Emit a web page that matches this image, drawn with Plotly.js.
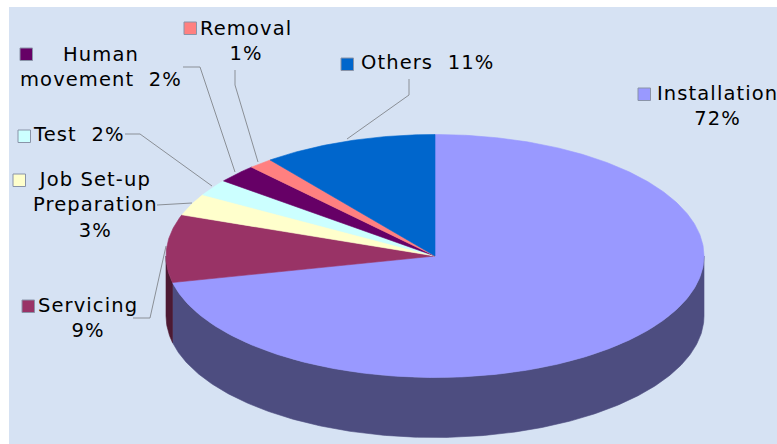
<!DOCTYPE html>
<html><head><meta charset="utf-8">
<script src="https://cdn.plot.ly/plotly-3.0.1.min.js"></script>
<style>html,body{margin:0;padding:0;background:#fff}#c{width:777px;height:444px}
.annotation-text{letter-spacing:1.1px}</style>
</head><body><div id="c"></div>
<script>
const categories = ["Installation","Servicing","Job Set-up Preparation","Test","Human movement","Removal","Others"];
const values = [71.5,9,2.9,2.2,2.45,1.45,10.5];
const topColors = ["#9999FF","#993366","#FFFFCC","#CCFFFF","#660066","#FF8080","#0066CC"];
const sideColors = ["#4D4D80","#4D1A33","#808066","#668080","#330033","#804040","#003366"];
const labelTexts = ["Installation<br>72%","Servicing<br>9%","Job Set-up<br>Preparation<br>3%","Test  2%","Human<br>movement  2%","Removal<br>1%","Others  11%"];

const W=777,H=444,ML=9,MT=7;
const CX=435,CY=256,RX=269,RY=121.5,DEPTH=60;
const depthU=DEPTH/RY;
const total=values.reduce((a,b)=>a+b,0);
const pt=t=>[Math.sin(t),Math.cos(t)];
function arc(a,b){const n=Math.max(2,Math.ceil((b-a)/0.01));const o=[];for(let i=0;i<=n;i++)o.push(pt(a+(b-a)*i/n));return o;}
const traces=[];
function poly(P,fill){traces.push({type:'scatter',mode:'lines',x:P.map(p=>p[0]),y:P.map(p=>p[1]),fill:'toself',fillcolor:fill,line:{color:fill,width:0.6},hoverinfo:'skip',showlegend:false});}
let c=0;const wedges=[];
values.forEach((v,i)=>{const a=c/total*2*Math.PI;c+=v;const b=c/total*2*Math.PI;wedges.push([a,b,i]);});
// side wall: only the front half of the rim is visible
wedges.forEach(([a,b,i])=>{const s=Math.max(a,Math.PI/2),e=Math.min(b,3*Math.PI/2);if(e>s){const top=arc(s,e);const bot=top.map(p=>[p[0],p[1]-depthU]).reverse();poly(top.concat(bot,[top[0]]),sideColors[i]);}});
wedges.forEach(([a,b,i])=>{const A=arc(a,b);poly([[0,0]].concat(A,[[0,0]]),topColors[i]);});

const pw=W-ML,ph=H-MT;
const X=px=>(px-ML)/pw,Y=py=>1-(py-MT)/ph;
const leaders=[
 [[347,139],[409,95],[409,79]],
 [[235,70],[235,85],[258,162]],
 [[183,67],[200,67],[235,172]],
 [[125,134],[140,134],[212,186]],
 [[157,205],[192,203]],
 [[133,318],[150,318],[166,246]]
];
const shapes=leaders.map(L=>({type:'path',xref:'paper',yref:'paper',layer:'below',
  path:L.map((p,i)=>(i?'L':'M')+X(p[0])+' '+Y(p[1])).join(' '),line:{color:'#8A8F96',width:1}}));
const keys=[[638,88,0],[22,300,1],[13,174,2],[18,130,3],[20,48,4],[184,22,5],[341,58,6]];
keys.forEach(([x,y,i])=>shapes.push({type:'rect',xref:'paper',yref:'paper',x0:X(x),x1:X(x+12.5),y0:Y(y+12.5),y1:Y(y),
  fillcolor:topColors[i],line:{color:'#8A94A8',width:1}}));
const lab=[[717,105.5,0],[88,318,1],[95,205.5,2],[79,134,3],[101,67,4],[246,41,5],[427,62,6]];
const annotations=lab.map(([x,y,i])=>({xref:'paper',yref:'paper',x:X(x),y:Y(y),xanchor:'center',yanchor:'middle',align:'center',showarrow:false,text:labelTexts[i],
  font:{family:'"DejaVu Sans",Verdana,sans-serif',size:19.5,color:'#000'}}));
Plotly.newPlot('c',traces,{
 width:W,height:H,paper_bgcolor:'#fff',plot_bgcolor:'#D6E2F3',showlegend:false,
 margin:{l:ML,t:MT,r:0,b:0,pad:0},
 xaxis:{range:[(ML-CX)/RX,(W-CX)/RX],visible:false,fixedrange:true},
 yaxis:{range:[(CY-H)/RY,(CY-MT)/RY],visible:false,fixedrange:true},
 shapes,annotations
},{displayModeBar:false,staticPlot:true});
</script></body></html>
